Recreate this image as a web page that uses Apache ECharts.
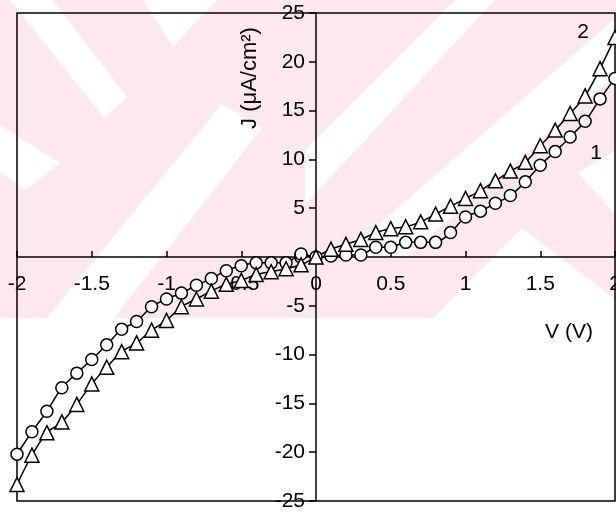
<!DOCTYPE html>
<html lang="en">
<head>
<meta charset="utf-8" />
<title>J-V</title>
<script src="https://cdn.jsdelivr.net/npm/echarts@6/dist/echarts.min.js"></script>
<style>
  html, body { margin: 0; padding: 0; background: #fff; }
  #chart { width: 616px; height: 513px; }
</style>
</head>
<body>
<div id="chart"></div>
<script>
// voltage steps, V
var voltage = [-2.0, -1.9, -1.8, -1.7, -1.6, -1.5, -1.4, -1.3, -1.2, -1.1,
               -1.0, -0.9, -0.8, -0.7, -0.6, -0.5, -0.4, -0.3, -0.2, -0.1,
                0.0,  0.1,  0.2,  0.3,  0.4,  0.5,  0.6,  0.7,  0.8,  0.9,
                1.0,  1.1,  1.2,  1.3,  1.4,  1.5,  1.6,  1.7,  1.8,  1.9, 2.0];
// curve 1 (circles), uA/cm2
var curve1 = [-20.2, -17.9, -15.8, -13.4, -11.9, -10.5, -9.0, -7.4, -6.6, -5.1,
              -4.3, -3.7, -2.9, -2.2, -1.4, -0.9, -0.6, -0.6, -0.6, 0.3,
               0.0, 0.1, 0.2, 0.2, 1.0, 1.0, 1.5, 1.5, 1.5, 2.5,
               4.1, 4.7, 5.5, 6.3, 7.7, 9.4, 10.8, 12.3, 13.9, 16.2, 18.3];
// curve 2 (triangles), uA/cm2
var curve2 = [-23.3, -20.3, -18.0, -16.9, -15.1, -13.0, -11.3, -9.7, -8.8, -7.5,
              -6.5, -5.1, -4.3, -3.5, -2.8, -2.4, -1.8, -1.5, -1.2, -0.8,
               0.0, 0.8, 1.3, 1.8, 2.5, 2.9, 3.1, 3.6, 4.4, 5.2,
               6.0, 6.8, 7.8, 8.8, 9.7, 11.4, 13.0, 14.7, 16.5, 19.3, 22.5];

var font = 'Liberation Sans, Arial, sans-serif';

// plot box in pixels; axes are shifted into the middle (crossing at 0,0)
var gLeft = 17, gRight = 1, gTop = 13, gBottom = 12;
var gW = 616 - gLeft - gRight, gH = 513 - gTop - gBottom;

function pairs(ys){
  return voltage.map(function(v, i){ return [v, ys[i]]; });
}

// pink watermark behind the plot
var pink = '#fce8ee';
var whiteBands = [
  [[10,0],[53,0],[127,97],[104,118]],
  [[0,125],[60,163],[25,190],[0,172]],
  [[143,0],[217,0],[173,47]],
  [[47,318],[114,318],[262,128],[222,104]],
  [[305,150],[455,0],[495,0],[305,205]],
  [[340,258],[616,18],[616,75],[405,258]],
  [[433,318],[522,228],[616,300],[616,318]],
  [[578,173],[616,150],[616,215]]
];
var graphics = [{
  type: 'rect', z: -100, silent: true,
  shape: {x: 0, y: 0, width: 616, height: 318},
  style: {fill: pink}
}];
whiteBands.forEach(function(p){
  graphics.push({type: 'polygon', z: -99, silent: true, shape: {points: p}, style: {fill: '#fff'}});
});
graphics.push(
  {type: 'text', z: 100, x: 250, y: 78, rotation: Math.PI / 2,
   style: {text: 'J (\u03bcA/cm\u00b2)', font: '22px ' + font, fill: '#000', align: 'center', verticalAlign: 'middle'}},
  {type: 'text', z: 100, x: 569, y: 332,
   style: {text: 'V (V)', font: '21px ' + font, fill: '#000', align: 'center', verticalAlign: 'middle'}},
  {type: 'text', z: 100, x: 583, y: 32,
   style: {text: '2', font: '21px ' + font, fill: '#000', align: 'center', verticalAlign: 'middle'}},
  {type: 'text', z: 100, x: 596, y: 153,
   style: {text: '1', font: '21px ' + font, fill: '#000', align: 'center', verticalAlign: 'middle'}}
);

var chart = echarts.init(document.getElementById('chart'));
chart.setOption({
  animation: false,
  backgroundColor: '#fff',
  graphic: graphics,
  grid: {
    left: gLeft, right: gRight, top: gTop, bottom: gBottom,
    outerBoundsMode: 'none', containLabel: false,
    show: true, borderColor: '#000', borderWidth: 1.5,
    backgroundColor: 'transparent'
  },
  xAxis: {
    type: 'value', min: -2, max: 2, interval: 0.5,
    offset: -gH / 2,
    axisLine: {onZero: false, lineStyle: {color: '#000', width: 1.5}},
    axisTick: {inside: true, length: 6, lineStyle: {color: '#000', width: 1.5}},
    axisLabel: {color: '#000', fontFamily: font, fontSize: 21, margin: 17, showMinLabel: true, showMaxLabel: true},
    splitLine: {show: false}
  },
  yAxis: {
    type: 'value', min: -25, max: 25, interval: 5,
    offset: -gW / 2,
    axisLine: {onZero: false, lineStyle: {color: '#000', width: 1.5}},
    axisTick: {inside: false, length: 7, lineStyle: {color: '#000', width: 1.5}},
    axisLabel: {color: '#000', fontFamily: font, fontSize: 21, margin: 11, showMinLabel: true, showMaxLabel: true},
    splitLine: {show: false}
  },
  series: [{
    name: '1', type: 'line', data: pairs(curve1), smooth: 0.3,
    symbol: 'circle', symbolSize: 12,
    lineStyle: {color: '#000', width: 1.5},
    itemStyle: {color: '#fff', borderColor: '#000', borderWidth: 1.5}
  }, {
    name: '2', type: 'line', data: pairs(curve2), smooth: 0.3,
    symbol: 'triangle', symbolSize: 14,
    lineStyle: {color: '#000', width: 1.5},
    itemStyle: {color: '#fff', borderColor: '#000', borderWidth: 1.5}
  }]
});
</script>
</body>
</html>
